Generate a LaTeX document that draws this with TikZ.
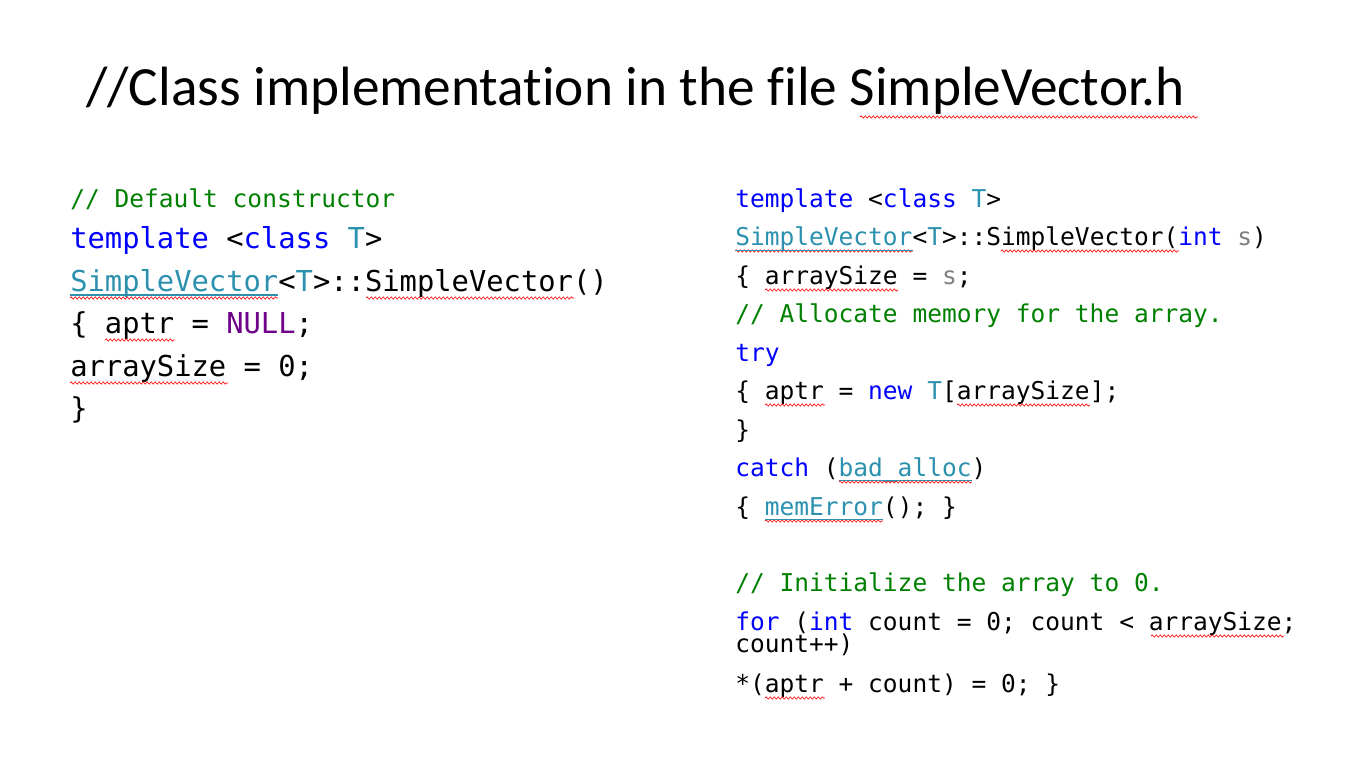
\documentclass[tikz,border=0pt]{standalone}
\usepackage{fontspec}
\setmainfont[Ligatures={NoCommon,NoRequired,NoContextual}]{Carlito}
\setmonofont{DejaVu Sans Mono}
\usetikzlibrary{decorations.pathmorphing}
\definecolor{kw}{HTML}{0000FF}
\definecolor{ty}{HTML}{2B91AF}
\definecolor{cm}{HTML}{008000}
\definecolor{mc}{HTML}{6F008A}
\definecolor{pm}{HTML}{808080}
\newcommand{\K}[1]{\textcolor{kw}{#1}}
\newcommand{\Ty}[1]{\textcolor{ty}{#1}}
\newcommand{\Cm}[1]{\textcolor{cm}{#1}}
\begin{document}
\begin{tikzpicture}[x=0.75pt,y=-0.75pt,
  big/.style={anchor=base west,inner sep=0pt,font=\ttfamily\fontsize{21.6}{26}\selectfont},
  sml/.style={anchor=base west,inner sep=0pt,font=\ttfamily\fontsize{18.4}{22}\selectfont},
  sq/.style={red,line width=0.5pt,decorate,decoration={snake,amplitude=0.8pt,segment length=3pt}}]
\useasboundingbox[fill=white] (0,0) rectangle (1366,763);
\node[anchor=base west,inner sep=0pt,font=\fontsize{41.5}{46}\selectfont] (title) at (86,106) {//Class implementation in the file SimpleVector.h};
% left
\node[sml] (l0) at (70,207) {\Cm{// Default constructor}};
\node[big] (l1) at (70,248) {\K{template} <\K{class} \Ty{T}>};
\node[big] (l2) at (70,291) {\Ty{SimpleVector}<\Ty{T}>::SimpleVector()};
\node[big] (l3) at (70,333) {\{ aptr = \textcolor{mc}{NULL};};
\node[big] (l4) at (70,376) {arraySize = 0;};
\node[big] (l5) at (70,418) {\}};
% right
\node[sml] (r1) at (735,207) {\K{template} <\K{class} \Ty{T}>};
\node[sml] (r2) at (735,245) {\Ty{SimpleVector}<\Ty{T}>::SimpleVector(\K{int} \textcolor{pm}{s})};
\node[sml] (r3) at (735,284) {\{ arraySize = \textcolor{pm}{s};};
\node[sml] (r4) at (735,322) {\Cm{// Allocate memory for the array.}};
\node[sml] (r5) at (735,361) {\K{try}};
\node[sml] (r6) at (735,399) {\{ aptr = \K{new} \Ty{T}[arraySize];};
\node[sml] (r7) at (735,438) {\}};
\node[sml] (r8) at (735,476) {\K{catch} (\Ty{bad\_alloc})};
\node[sml] (r9) at (735,515) {\{ \Ty{memError}(); \}};
\node[sml] (r10) at (735,591) {\Cm{// Initialize the array to 0.}};
\node[sml] (r11) at (735,630) {\K{for} (\K{int} count = 0; count < arraySize;};
\node[sml] (r12) at (735,652) {count++)};
\node[sml] (r13) at (735,692) {*(aptr + count) = 0; \}};
% squiggles
\foreach \a/\b/\y in {860/1198/117, 70/278/298, 366/574/298, 105/175/340, 70/228/383,
  735/913/251, 1001/1179/251, 765/898/290, 765/825/405, 957/1090/405, 839/972/482,
  765/883/521, 1151/1284/636, 765/825/698}
  \draw[sq] (\a,\y) -- (\b,\y);
\draw[ty,line width=0.8pt] (70,295) -- (278,295);
\draw[ty,line width=0.7pt] (735,250) -- (913,250);
\draw[ty,line width=0.7pt] (839,480) -- (972,480);
\draw[ty,line width=0.7pt] (765,519) -- (883,519);
\end{tikzpicture}
\end{document}
